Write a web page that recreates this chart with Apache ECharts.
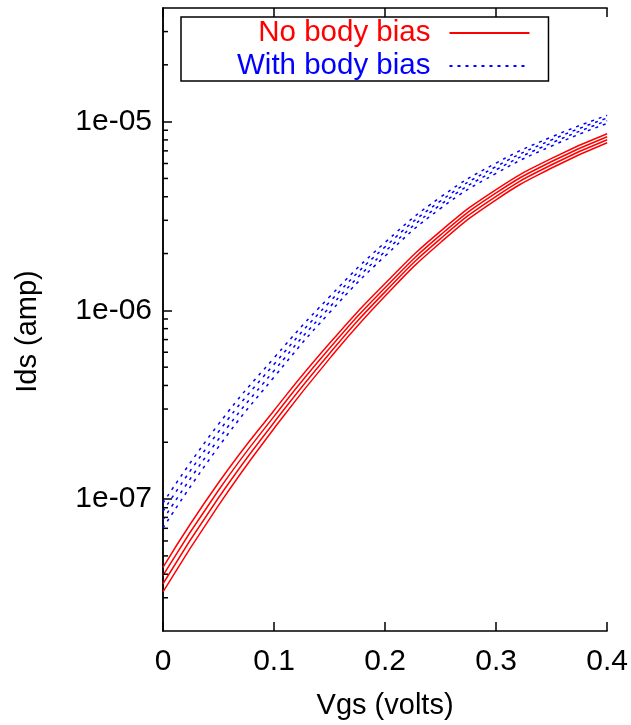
<!DOCTYPE html>
<html>
<head>
<meta charset="utf-8">
<script src="https://cdn.jsdelivr.net/npm/echarts@6/dist/echarts.min.js"></script>
<style>
html, body { margin: 0; padding: 0; background: #fff; }
#chart { width: 631px; height: 725px; }
</style>
</head>
<body>
<div id="chart"></div>
<script>
// Vgs (volts)
const vgs = [0, 0.05, 0.1, 0.15, 0.2, 0.25, 0.3, 0.35, 0.4];

// Ids (amp) - no body bias, 4 curves
const noBias1 = [4.35e-8, 1.22e-7, 2.95e-7, 6.69e-7, 1.387e-6, 2.63e-6, 4.365e-6, 6.39e-6, 8.63e-6];
const noBias2 = [3.94e-8, 1.114e-7, 2.742e-7, 6.29e-7, 1.318e-6, 2.51e-6, 4.19e-6, 6.145e-6, 8.32e-6];
const noBias3 = [3.56e-8, 1.016e-7, 2.547e-7, 5.91e-7, 1.253e-6, 2.40e-6, 4.02e-6, 5.91e-6, 8.02e-6];
const noBias4 = [3.22e-8, 9.27e-8, 2.366e-7, 5.55e-7, 1.191e-6, 2.29e-6, 3.855e-6, 5.68e-6, 7.73e-6];

// Ids (amp) - with body bias, 4 curves
const withBias1 = [9.53e-8, 2.495e-7, 5.60e-7, 1.18e-6, 2.29e-6, 3.98e-6, 6.03e-6, 8.30e-6, 1.079e-5];
const withBias2 = [8.61e-8, 2.275e-7, 5.18e-7, 1.107e-6, 2.17e-6, 3.80e-6, 5.78e-6, 8.00e-6, 1.045e-5];
const withBias3 = [7.78e-8, 2.075e-7, 4.79e-7, 1.038e-6, 2.05e-6, 3.63e-6, 5.55e-6, 7.71e-6, 1.012e-5];
const withBias4 = [7.03e-8, 1.892e-7, 4.43e-7, 9.73e-7, 1.94e-6, 3.47e-6, 5.32e-6, 7.43e-6, 9.79e-6];

// minor ticks of the log axis
const minorTicks = [3e-8, 4e-8, 5e-8, 6e-8, 7e-8, 8e-8, 9e-8,
    2e-7, 3e-7, 4e-7, 5e-7, 6e-7, 7e-7, 8e-7, 9e-7,
    2e-6, 3e-6, 4e-6, 5e-6, 6e-6, 7e-6, 8e-6, 9e-6,
    2e-5, 3e-5];

const FONT = 'Liberation Sans';
const pair = (ys) => vgs.map((x, i) => [x, ys[i]]);

const redSeries = [noBias1, noBias2, noBias3, noBias4].map(ys => ({
    name: 'No body bias',
    type: 'line',
    data: pair(ys),
    smooth: true,
    symbol: 'none',
    lineStyle: { color: '#ff0000', width: 1.5, type: 'solid' },
    itemStyle: { color: '#ff0000' }
}));
const blueSeries = [withBias1, withBias2, withBias3, withBias4].map(ys => ({
    name: 'With body bias',
    type: 'line',
    data: pair(ys),
    smooth: true,
    symbol: 'none',
    lineStyle: { color: '#0000ff', width: 1.5, type: [3, 5] },
    itemStyle: { color: '#0000ff' }
}));

var myChart = echarts.init(document.getElementById('chart'));
var option = {
    animation: false,
    textStyle: { fontFamily: FONT },
    grid: { left: 163, right: 22, top: 8, bottom: 94 },
    legend: {
        left: 181,
        top: 17,
        orient: 'vertical',
        align: 'right',
        itemWidth: 80,
        itemHeight: 14,
        itemGap: 3,
        padding: [1, 18, 0, 56],
        borderColor: '#000',
        borderWidth: 1.5,
        itemStyle: { opacity: 0 },
        textStyle: { fontFamily: FONT, fontSize: 29.5, padding: [0, 14, 0, 0] },
        data: [
            { name: 'No body bias', textStyle: { color: '#ff0000' } },
            { name: 'With body bias', textStyle: { color: '#0000ff' } }
        ]
    },
    xAxis: [{
        type: 'value',
        position: 'bottom',
        min: 0,
        max: 0.4,
        interval: 0.1,
        name: 'Vgs (volts)',
        nameLocation: 'middle',
        nameGap: 60,
        nameMoveOverlap: false,
        nameTextStyle: { fontFamily: FONT, fontSize: 29, color: '#000' },
        axisLine: { lineStyle: { color: '#000', width: 1.5 } },
        axisTick: { inside: true, length: 9, lineStyle: { color: '#000', width: 1.5 } },
        axisLabel: { fontFamily: FONT, fontSize: 30, color: '#000', margin: 16 },
        splitLine: { show: false }
    }, {
        type: 'value',
        position: 'top',
        min: 0,
        max: 0.4,
        interval: 0.1,
        axisLine: { lineStyle: { color: '#000', width: 1.5 } },
        axisTick: { inside: true, length: 9, lineStyle: { color: '#000', width: 1.5 } },
        axisLabel: { show: false },
        splitLine: { show: false }
    }],
    yAxis: [{
        type: 'log',
        position: 'left',
        min: 2e-8,
        max: 4e-5,
        logBase: 10,
        name: 'Ids (amp)',
        nameLocation: 'middle',
        nameGap: 121,
        nameMoveOverlap: false,
        nameTextStyle: { fontFamily: FONT, fontSize: 29, color: '#000', padding: [0, 24, 0, 0] },
        axisLine: { lineStyle: { color: '#000', width: 1.5 } },
        axisTick: { inside: true, length: 9, lineStyle: { color: '#000', width: 1.5 } },
        axisLabel: {
            fontFamily: FONT, fontSize: 30, color: '#000', margin: 11,
            showMinLabel: false, showMaxLabel: false,
            formatter: (v) => {
                const s = Number(v).toExponential(0);
                return s.replace(/e([+-])(\d)$/, 'e$10$2');
            }
        },
        splitLine: { show: false }
    }, {
        type: 'value',
        position: 'right',
        axisLine: { show: true, lineStyle: { color: '#000', width: 1.5 } },
        axisTick: { show: false },
        axisLabel: { show: false },
        splitLine: { show: false }
    }],
    series: [
        ...redSeries,
        ...blueSeries,
        {
            name: 'minor ticks',
            type: 'custom',
            silent: true,
            data: minorTicks.map(v => [0, v]),
            renderItem: (params, api) => {
                const p = api.coord([api.value(0), api.value(1)]);
                return {
                    type: 'line',
                    shape: { x1: p[0], y1: p[1], x2: p[0] + 5, y2: p[1] },
                    style: { stroke: '#000', lineWidth: 1.5 }
                };
            },
            z: 5
        }
    ]
};

option && myChart.setOption(option);
</script>
</body>
</html>
